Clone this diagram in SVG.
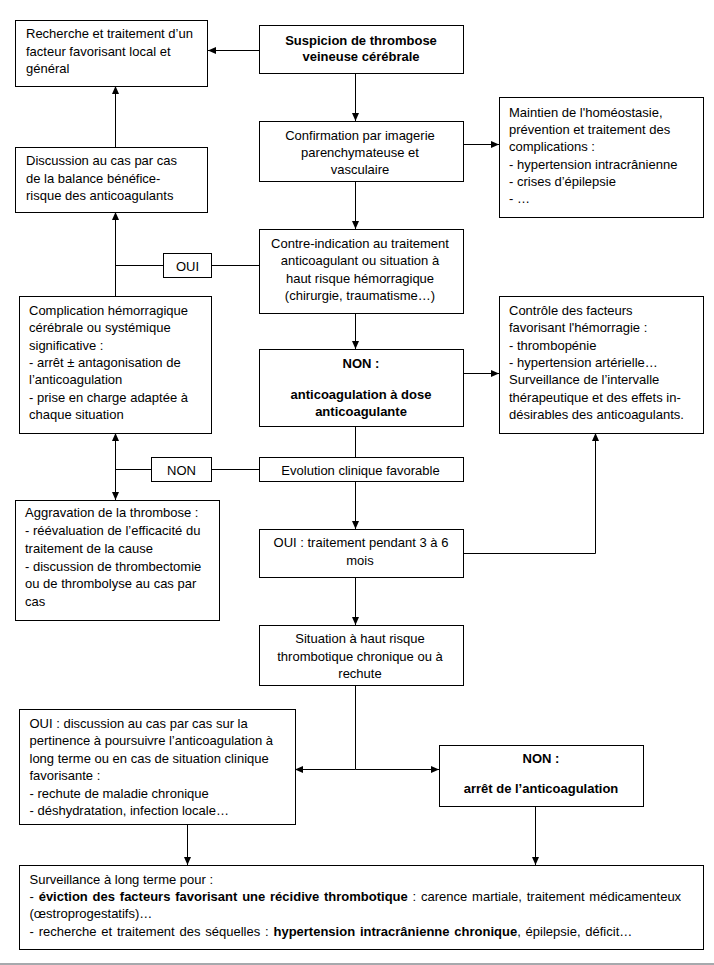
<svg xmlns="http://www.w3.org/2000/svg" width="714" height="965" viewBox="0 0 714 965">
<style>
.box{fill:#fff;stroke:#000;stroke-width:1}
.t{font-family:"Liberation Sans",Arial,sans-serif;font-size:13px;fill:#000}
.b{font-weight:bold}
.c{text-anchor:middle}
.ln{stroke:#000;stroke-width:1;fill:none}
.ar{marker-end:url(#ah)}
</style>
<defs>
<marker id="ah" viewBox="0 0 8 7" markerWidth="8" markerHeight="7" refX="8" refY="3.5" orient="auto-start-reverse" markerUnits="userSpaceOnUse">
<path d="M0,0 L8,3.5 L0,7 z" fill="#000"/>
</marker>
</defs>
<rect width="714" height="965" fill="#fff"/>
<rect x="0" y="963" width="714" height="2" fill="#a6a9ad"/>

<g id="connectors">
<line class="ln ar" x1="259" y1="50.5" x2="208" y2="50.5"/>
<line class="ln ar" x1="355.5" y1="73" x2="355.5" y2="121"/>
<line class="ln ar" x1="355.5" y1="181" x2="355.5" y2="229"/>
<line class="ln ar" x1="463" y1="144.5" x2="499" y2="144.5"/>
<line class="ln ar" x1="115.5" y1="147" x2="115.5" y2="86"/>
<line class="ln ar" x1="115.5" y1="296" x2="115.5" y2="212"/>
<line class="ln" x1="259" y1="265.5" x2="211" y2="265.5"/>
<line class="ln" x1="163" y1="265.5" x2="115.5" y2="265.5"/>
<line class="ln ar" x1="355.5" y1="313" x2="355.5" y2="349"/>
<line class="ln ar" x1="463" y1="373.5" x2="499" y2="373.5"/>
<line class="ln" x1="355.5" y1="426" x2="355.5" y2="457"/>
<line class="ln" x1="259" y1="469.5" x2="211" y2="469.5"/>
<line class="ln" x1="151" y1="469.5" x2="115.5" y2="469.5"/>
<line class="ln ar" x1="115.5" y1="433" x2="115.5" y2="500" style="marker-start:url(#ah)"/>
<line class="ln ar" x1="355.5" y1="481" x2="355.5" y2="529"/>
<polyline class="ln ar" points="463,553.5 595.5,553.5 595.5,433"/>
<line class="ln ar" x1="355.5" y1="577" x2="355.5" y2="625"/>
<line class="ln" x1="355.5" y1="685" x2="355.5" y2="769.5"/>
<line class="ln ar" x1="355.5" y1="769.5" x2="295" y2="769.5"/>
<line class="ln ar" x1="355.5" y1="769.5" x2="439" y2="769.5"/>
<line class="ln ar" x1="187.5" y1="824" x2="187.5" y2="865"/>
<line class="ln ar" x1="535.5" y1="806" x2="535.5" y2="865"/>
</g>

<g id="recherche">
<rect class="box" x="15.5" y="20.5" width="192" height="66"/>
<text class="t" x="26" y="38">Recherche  et traitement d’un</text>
<text class="t" x="26" y="56">facteur favorisant local et</text>
<text class="t" x="26" y="73">général</text>
</g>

<g id="suspicion">
<rect class="box" x="259.5" y="25.5" width="204" height="48"/>
<text class="t b c" x="361" y="44.5">Suspicion de thrombose</text>
<text class="t b c" x="361" y="61">veineuse cérébrale</text>
</g>

<g id="confirmation">
<rect class="box" x="259.5" y="121.5" width="204" height="60"/>
<text class="t c" x="360" y="140">Confirmation par imagerie</text>
<text class="t c" x="360" y="157">parenchymateuse  et</text>
<text class="t c" x="360" y="174">vasculaire</text>
</g>

<g id="maintien">
<rect class="box" x="499.5" y="97.5" width="204" height="120"/>
<text class="t" x="509" y="116.5">Maintien de l'homéostasie,</text>
<text class="t" x="509" y="134">prévention et traitement des</text>
<text class="t" x="509" y="151">complications :</text>
<text class="t" x="509" y="168.5">- hypertension intracrânienne</text>
<text class="t" x="509" y="186">- crises d’épilepsie</text>
<text class="t" x="509" y="203">- …</text>
</g>

<g id="discussion">
<rect class="box" x="15.5" y="147.5" width="192" height="65"/>
<text class="t" x="26" y="165">Discussion au cas par cas</text>
<text class="t" x="26" y="182.5">de la balance bénéfice-</text>
<text class="t" x="26" y="199.5">risque des anticoagulants</text>
</g>

<g id="contre-indication">
<rect class="box" x="259.5" y="229.5" width="204" height="84"/>
<text class="t c" x="360" y="247.7">Contre-indication au traitement</text>
<text class="t c" x="360" y="265">anticoagulant ou situation à</text>
<text class="t c" x="360" y="282.5">haut risque hémorragique</text>
<text class="t c" x="360" y="300">(chirurgie, traumatisme…)</text>
</g>

<g id="oui-label">
<rect class="box" x="163.5" y="253.5" width="48" height="24"/>
<text class="t c" x="187.5" y="270.5">OUI</text>
</g>

<g id="complication">
<rect class="box" x="19.5" y="296.5" width="192" height="137"/>
<text class="t" x="29" y="314.7">Complication hémorragique</text>
<text class="t" x="29" y="332">cérébrale ou systémique</text>
<text class="t" x="29" y="349.5">significative :</text>
<text class="t" x="29" y="367">- arrêt ± antagonisation de</text>
<text class="t" x="29" y="384">l’anticoagulation</text>
<text class="t" x="29" y="401.7">- prise en charge adaptée à</text>
<text class="t" x="29" y="419">chaque situation</text>
</g>

<g id="non-anticoagulation">
<rect class="box" x="259.5" y="349.5" width="204" height="77"/>
<text class="t b c" x="361" y="367.5">NON :</text>
<text class="t b c" x="361" y="399">anticoagulation  à dose</text>
<text class="t b c" x="361" y="416">anticoagulante</text>
</g>

<g id="controle">
<rect class="box" x="499.5" y="296.5" width="204" height="137"/>
<text class="t" x="509" y="314.7">Contrôle des facteurs</text>
<text class="t" x="509" y="332">favorisant l'hémorragie :</text>
<text class="t" x="509" y="349.5">- thrombopénie</text>
<text class="t" x="509" y="367">- hypertension artérielle…</text>
<text class="t" x="509" y="384.3">Surveillance de l’intervalle</text>
<text class="t" x="509" y="401.7">thérapeutique et des effets in-</text>
<text class="t" x="509" y="419">désirables des anticoagulants.</text>
</g>

<g id="non-label">
<rect class="box" x="151.5" y="457.5" width="60" height="24"/>
<text class="t c" x="181.5" y="474.5">NON</text>
</g>

<g id="evolution">
<rect class="box" x="259.5" y="457.5" width="204" height="24"/>
<text class="t c" x="360.5" y="474.5">Evolution clinique favorable</text>
</g>

<g id="aggravation">
<rect class="box" x="15.5" y="500.5" width="204" height="120"/>
<text class="t" x="25" y="517.3">Aggravation de la thrombose :</text>
<text class="t" x="25" y="535">- réévaluation  de l’efficacité du</text>
<text class="t" x="25" y="552.7">traitement  de la cause</text>
<text class="t" x="25" y="570.7">- discussion de thrombectomie</text>
<text class="t" x="25" y="588">ou de thrombolyse au cas par</text>
<text class="t" x="25" y="605.7">cas</text>
</g>

<g id="oui-traitement">
<rect class="box" x="259.5" y="529.5" width="204" height="48"/>
<text class="t c" x="361" y="547.3">OUI : traitement  pendant 3 à 6</text>
<text class="t c" x="360" y="564.7">mois</text>
</g>

<g id="situation">
<rect class="box" x="259.5" y="625.5" width="204" height="60"/>
<text class="t c" x="360" y="643.3">Situation à haut risque</text>
<text class="t c" x="360" y="660.7">thrombotique chronique ou à</text>
<text class="t c" x="360" y="677.5">rechute</text>
</g>

<g id="oui-discussion">
<rect class="box" x="19.5" y="709.5" width="276" height="115"/>
<text class="t" x="29.5" y="727.7">OUI : discussion au cas par cas sur la</text>
<text class="t" x="29.5" y="745">pertinence à poursuivre l’anticoagulation à</text>
<text class="t" x="29.5" y="762.7">long terme ou en cas de situation clinique</text>
<text class="t" x="29.5" y="780">favorisante :</text>
<text class="t" x="29.5" y="797.7">- rechute de maladie chronique</text>
<text class="t" x="29.5" y="814.7">- déshydratation, infection locale…</text>
</g>

<g id="non-arret">
<rect class="box" x="439.5" y="745.5" width="204" height="61"/>
<text class="t b c" x="541" y="763.3">NON :</text>
<text class="t b c" x="541" y="793.3">arrêt de l’anticoagulation</text>
</g>

<g id="surveillance">
<rect class="box" x="19.5" y="865.5" width="684" height="84"/>
<text class="t" x="29.5" y="883.7">Surveillance à long terme pour :</text>
<text class="t" x="29.5" y="900.7" word-spacing="1.2">- <tspan class="b">éviction des facteurs favorisant une récidive thrombotique</tspan> : carence martiale, traitement médicamenteux</text>
<text class="t" x="29.5" y="918">(œstroprogestatifs)…</text>
<text class="t" x="29.5" y="936" word-spacing="1.2">- recherche et traitement des séquelles : <tspan class="b">hypertension intracrânienne chronique</tspan>, épilepsie, déficit…</text>
</g>
</svg>
